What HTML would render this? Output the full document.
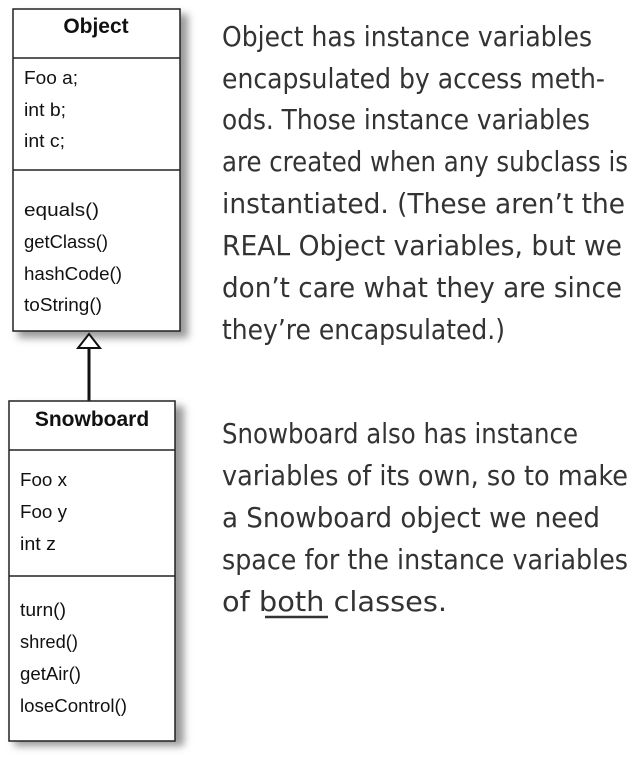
<!DOCTYPE html>
<html><head><meta charset="utf-8"><style>
body{margin:0;background:#fff;width:634px;height:771px;overflow:hidden}
</style></head><body>
<svg width="634" height="771" xmlns="http://www.w3.org/2000/svg" font-family="Liberation Sans, Arial, sans-serif">
<defs><filter id="sh" x="-20%" y="-20%" width="150%" height="150%"><feGaussianBlur stdDeviation="4"/></filter></defs>
<rect x="18" y="14" width="170" height="324" fill="#999" filter="url(#sh)"/>
<rect x="13" y="9" width="167" height="322" fill="#fff" stroke="#222" stroke-width="1.5"/>
<line x1="13" y1="58" x2="180" y2="58" stroke="#222" stroke-width="1.5"/>
<line x1="13" y1="170" x2="180" y2="170" stroke="#222" stroke-width="1.5"/>
<text x="96" y="33" font-size="21" font-weight="bold" text-anchor="middle" fill="#111">Object</text>
<g font-size="18" fill="#111">
<text x="24" y="84" textLength="54" lengthAdjust="spacingAndGlyphs">Foo a;</text>
<text x="24" y="116" textLength="42" lengthAdjust="spacingAndGlyphs">int b;</text>
<text x="24" y="147" textLength="41" lengthAdjust="spacingAndGlyphs">int c;</text>
<text x="24" y="216" textLength="75" lengthAdjust="spacingAndGlyphs">equals()</text>
<text x="24" y="248" textLength="84" lengthAdjust="spacingAndGlyphs">getClass()</text>
<text x="24" y="280" textLength="98" lengthAdjust="spacingAndGlyphs">hashCode()</text>
<text x="24" y="311" textLength="78" lengthAdjust="spacingAndGlyphs">toString()</text>
</g>
<line x1="89" y1="347" x2="89" y2="402" stroke="#111" stroke-width="3"/>
<polygon points="89,334 78,348 100,348" fill="#fff" stroke="#111" stroke-width="2"/>
<rect x="14" y="406" width="170" height="340" fill="#999" filter="url(#sh)"/>
<rect x="9" y="401" width="166" height="340" fill="#fff" stroke="#222" stroke-width="1.5"/>
<line x1="9" y1="450" x2="175" y2="450" stroke="#222" stroke-width="1.5"/>
<line x1="9" y1="576" x2="175" y2="576" stroke="#222" stroke-width="1.5"/>
<text x="92" y="426" font-size="21" font-weight="bold" text-anchor="middle" fill="#111">Snowboard</text>
<g font-size="18" fill="#111">
<text x="20" y="486" textLength="47" lengthAdjust="spacingAndGlyphs">Foo x</text>
<text x="20" y="518" textLength="47" lengthAdjust="spacingAndGlyphs">Foo y</text>
<text x="20" y="550" textLength="36" lengthAdjust="spacingAndGlyphs">int z</text>
<text x="20" y="616" textLength="46" lengthAdjust="spacingAndGlyphs">turn()</text>
<text x="20" y="648" textLength="58" lengthAdjust="spacingAndGlyphs">shred()</text>
<text x="20" y="680" textLength="61" lengthAdjust="spacingAndGlyphs">getAir()</text>
<text x="20" y="712" textLength="107" lengthAdjust="spacingAndGlyphs">loseControl()</text>
</g>
<g font-size="28" fill="#333" font-family="DejaVu Sans, sans-serif">
<text x="222" y="46" textLength="370" lengthAdjust="spacingAndGlyphs">Object has instance variables</text>
<text x="222" y="88" textLength="383" lengthAdjust="spacingAndGlyphs">encapsulated by access meth-</text>
<text x="222" y="129" textLength="368" lengthAdjust="spacingAndGlyphs">ods. Those instance variables</text>
<text x="222" y="171" textLength="406" lengthAdjust="spacingAndGlyphs">are created when any subclass is</text>
<text x="222" y="213" textLength="403" lengthAdjust="spacingAndGlyphs">instantiated. (These aren’t the</text>
<text x="222" y="255" textLength="400" lengthAdjust="spacingAndGlyphs">REAL Object variables, but we</text>
<text x="222" y="297" textLength="400" lengthAdjust="spacingAndGlyphs">don’t care what they are since</text>
<text x="222" y="339" textLength="283" lengthAdjust="spacingAndGlyphs">they’re encapsulated.)</text>
<text x="222" y="443" textLength="356" lengthAdjust="spacingAndGlyphs">Snowboard also has instance</text>
<text x="222" y="485" textLength="406" lengthAdjust="spacingAndGlyphs">variables of its own, so to make</text>
<text x="222" y="527" textLength="378" lengthAdjust="spacingAndGlyphs">a Snowboard object we need</text>
<text x="222" y="569" textLength="406" lengthAdjust="spacingAndGlyphs">space for the instance variables</text>
<text x="222" y="611" textLength="225" lengthAdjust="spacingAndGlyphs">of both classes.</text>
</g>
<line x1="265" y1="617" x2="328" y2="617" stroke="#333" stroke-width="2.5"/>
</svg>
</body></html>
